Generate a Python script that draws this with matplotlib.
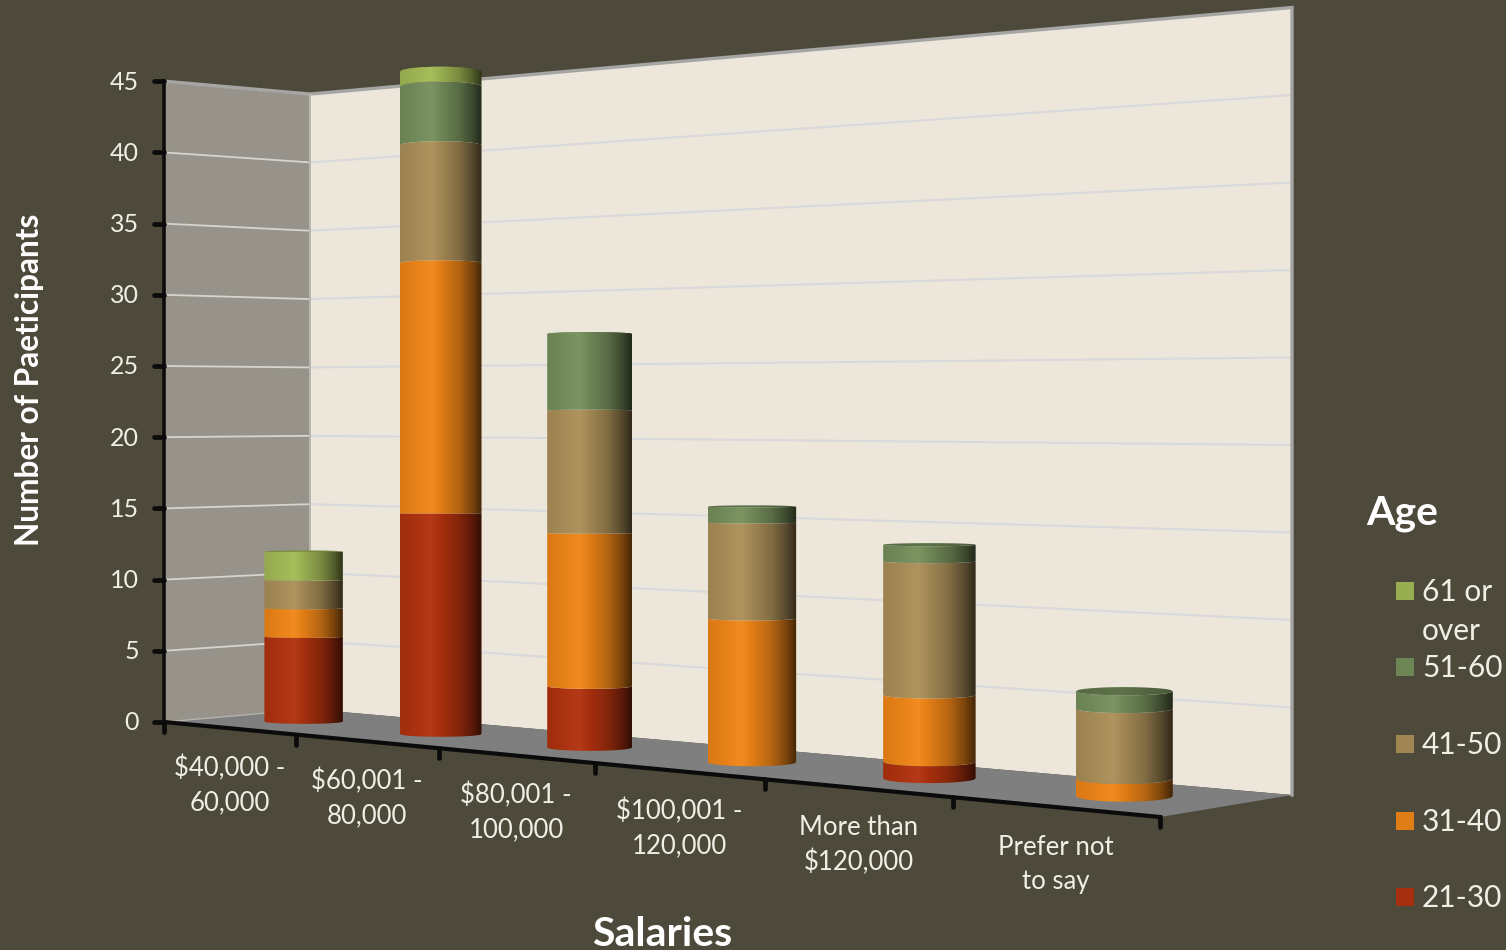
import numpy as np
import matplotlib
matplotlib.use("Agg")
import matplotlib.pyplot as plt
from matplotlib.path import Path
from matplotlib.patches import Polygon, Rectangle

plt.rcParams["font.family"] = ["Lato", "DejaVu Sans"]

# ---------------------------------------------------------
# DATA
# ---------------------------------------------------------

categories = ["$40,000 -\n60,000", "$60,001 -\n80,000", "$80,001 -\n100,000",
              "$100,001 -\n120,000", "More than\n$120,000", "Prefer not\nto say"]

age_21_30 = [6, 15, 4, 0, 1, 0]
age_31_40 = [2, 17, 10, 9, 4, 1]
age_41_50 = [2, 8, 8, 6, 8, 4]
age_51_60 = [0, 4, 5, 1, 1, 1]
age_61_up = [2, 1, 0, 0, 0, 0]

series = [age_21_30, age_31_40, age_41_50, age_51_60, age_61_up]
series_names = ["21-30", "31-40", "41-50", "51-60", "61 or\nover"]
series_colors = ["#a52f0e", "#e07d16", "#a08653", "#6e8656", "#98ae50"]

y_ticks = [0, 5, 10, 15, 20, 25, 30, 35, 40, 45]
y_max = 45

BG = "#4d493b"
TEXT = "#f1eee6"

# ---------------------------------------------------------
# PERSPECTIVE BOX (category, depth, value) -> pixels
# ---------------------------------------------------------

n_cat = len(categories)
src = [(0, 0), (n_cat, 0), (n_cat, 1), (0, 1)]
dst = [(164, 722), (1160, 817), (1292, 795), (310, 709.2)]

rows, rhs = [], []
for (u, v), (px, py) in zip(src, dst):
    rows.append([u, v, 1, 0, 0, 0, -u * px, -v * px])
    rows.append([0, 0, 0, u, v, 1, -u * py, -v * py])
    rhs += [px, py]
H = np.append(np.linalg.solve(np.array(rows, float), np.array(rhs, float)), 1).reshape(3, 3)

# pixels per value unit at three corners of the box
s_a = 1 / 14.24
s_c = (1 / 13.67) - s_a
s_b = ((1 / 17.5) - s_a - s_c) / n_cat


def scale_at(x, z):
    return 1 / (s_a + s_b * x + s_c * z)


def project(x, z, value=0):
    px, py, w = H @ np.array([x, z, 1.0])
    return px / w, py / w - value * scale_at(x, z)


# ---------------------------------------------------------
# FIGURE
# ---------------------------------------------------------

fig = plt.figure(figsize=(15.06, 9.5), dpi=100, facecolor=BG)
ax = fig.add_axes([0, 0, 1, 1])
ax.set_axis_off()

A, B, C, D = project(0, 0), project(n_cat, 0), project(n_cat, 1), project(0, 1)
A_top, C_top, D_top = project(0, 0, y_max), project(n_cat, 1, y_max), project(0, 1, y_max)

ax.add_patch(Polygon([D, C, C_top, D_top], fc="#ece7da", ec="none", zorder=1))
ax.add_patch(Polygon([A, D, D_top, A_top], fc="#97938a", ec="none", zorder=1))
ax.add_patch(Polygon([A, B, C, D], fc="#7f7f7f", ec="none", zorder=2))

# gridlines on both walls
for t in y_ticks[1:-1]:
    p0, p1, p2 = project(0, 0, t), project(0, 1, t), project(n_cat, 1, t)
    ax.plot([p0[0], p1[0]], [p0[1], p1[1]], color="#d6d4ce", lw=1.3, zorder=3)
    ax.plot([p1[0], p2[0]], [p1[1], p2[1]], color="#d9d9dc", lw=1.5, zorder=3)

# wall borders
ax.plot([A_top[0], D_top[0], C_top[0], C[0]], [A_top[1], D_top[1], C_top[1], C[1]],
        color="#a5a5a3", lw=2.4, zorder=3, solid_joinstyle="miter")
ax.plot([D_top[0], D[0]], [D_top[1], D[1]], color="#b9b7b0", lw=1.4, zorder=3)
ax.plot([A[0], D[0]], [A[1], D[1]], color="#b5b3ad", lw=1.0, zorder=3)

# ---------------------------------------------------------
# CYLINDERS
# ---------------------------------------------------------

shade_pos = [0.0, 0.38, 0.5, 0.72, 0.88, 1.0]
shade_val = [0.97, 1.08, 1.0, 0.80, 0.55, 0.30]
bar_start = 0.448
bar_pitch = 1.005
bar_depth = 0.55
bar_drop = 1.5
bar_radius = 2.77


def gradient(color, pos=shade_pos, val=shade_val):
    rgb = np.array(matplotlib.colors.to_rgb(color))
    f = np.interp(np.linspace(0, 1, 256), pos, val)
    shaded = f[:, None] * rgb
    # the lit stripe also picks up a little white
    shaded = shaded + 0.4 * np.clip(f - 1, 0, None)[:, None] * (1 - shaded)
    return np.clip(shaded, 0, 1)[None, :, :]


def rim_sag(cx, y, r):
    # how far a ring bows on screen: down below eye height, up above it
    eye_y = 500 - (cx - 440) * 0.147
    return r / 41 * 0.012 * (y - eye_y)


def rim_points(cx, y, r, sag):
    t = np.linspace(-1, 1, 60)
    return cx + r * t, y + sag * np.sqrt(1 - t ** 2)


def fill_gradient(path_x, path_y, cx, r, top, bottom, grad):
    im = ax.imshow(grad, extent=(cx - r, cx + r, bottom, top), aspect="auto",
                   interpolation="bilinear", zorder=5)
    verts = np.column_stack([path_x, path_y])
    im.set_clip_path(Path(np.vstack([verts, verts[0]]), closed=True), transform=ax.transData)


for i in range(n_cat):
    x = bar_start + i * bar_pitch
    cx, base_y = project(x, bar_depth)
    base_y += bar_drop
    s = scale_at(x, bar_depth)
    r = bar_radius * s

    total = 0
    last_color = None
    for vals, color in zip(series, series_colors):
        if vals[i] == 0:
            continue
        y0 = base_y - total * s
        y1 = base_y - (total + vals[i]) * s
        b0, b1 = rim_sag(cx, y0, r), rim_sag(cx, y1, r)
        xb, yb = rim_points(cx, y0, r, b0)
        xt, yt = rim_points(cx, y1, r, b1)
        fill_gradient(np.r_[xb, xt[::-1]], np.r_[yb, yt[::-1]], cx, r,
                      min(y1, yt.min()) - 3, max(y0, yb.max()) + 3, gradient(color))
        total += vals[i]
        last_color = color

    # top of the stack
    top_y = base_y - total * s
    sag = rim_sag(cx, top_y, r)
    bulge = max(abs(sag), 1.3)
    xa, ya = rim_points(cx, top_y, r, -bulge)
    if sag > 0:
        xf, yf = rim_points(cx, top_y, r, sag)
        grad = gradient(last_color, [0, 0.45, 1], [0.78, 0.86, 0.66])
    else:
        xf, yf = xa, np.full_like(ya, top_y + 1)
        grad = gradient(last_color)
    fill_gradient(np.r_[xa, xf[::-1]], np.r_[ya, yf[::-1]], cx, r,
                  top_y - bulge - 3, top_y + abs(sag) + 3, grad)

# ---------------------------------------------------------
# AXES LINES, TICKS, LABELS
# ---------------------------------------------------------

axis_col = "#0b0b0b"
ax.plot([A_top[0], A[0]], [A_top[1], A[1]], color=axis_col, lw=2.6, zorder=6)
ax.plot([A[0], B[0]], [A[1], B[1]], color=axis_col, lw=3.0, zorder=6)

for t in y_ticks:
    px, py = project(0, 0, t)
    ax.plot([px - 10, px], [py, py], color=axis_col, lw=3.4, solid_capstyle="round", zorder=6)
    ax.text(px - 25, py + 1, str(t), color=TEXT, fontsize=18, ha="right", va="center")

for i in range(n_cat + 1):
    px, py = project(i, 0)
    ax.plot([px, px], [py, py + 10], color=axis_col, lw=3.4, solid_capstyle="round", zorder=6)

for i, label in enumerate(categories):
    p0, p1 = project(i, 0), project(i + 1, 0)
    ax.text((p0[0] + p1[0]) / 2 - 0.5, (p0[1] + p1[1]) / 2 + 57, label, color=TEXT,
            fontsize=18.5, ha="center", va="center", linespacing=1.45, multialignment="center")

ax.text(30, 380, "Number of Paeticipants", color="white", fontsize=22.8, fontweight="bold",
        rotation=90, ha="center", va="center")
ax.text(662, 934, "Salaries", color="white", fontsize=29.5, fontweight="bold", ha="center", va="center")

# ---------------------------------------------------------
# LEGEND
# ---------------------------------------------------------

ax.text(1366, 513, "Age", color="white", fontsize=29.5, fontweight="bold", ha="left", va="center")

legend_y = [897, 821, 744, 667, 591]
for name, color, ly in zip(series_names, series_colors, legend_y):
    ax.add_patch(Rectangle((1396, ly - 9), 18, 18, fc=color, ec="none"))
    ax.text(1422, ly + 1, name.split("\n")[0], color=TEXT, fontsize=21.5, ha="left", va="center")
    if "\n" in name:
        ax.text(1422, ly + 40, name.split("\n")[1], color=TEXT, fontsize=21.5, ha="left", va="center")

ax.set_xlim(0, 1506)
ax.set_ylim(950, 0)

fig.savefig("out.png", dpi=100, facecolor=BG)
